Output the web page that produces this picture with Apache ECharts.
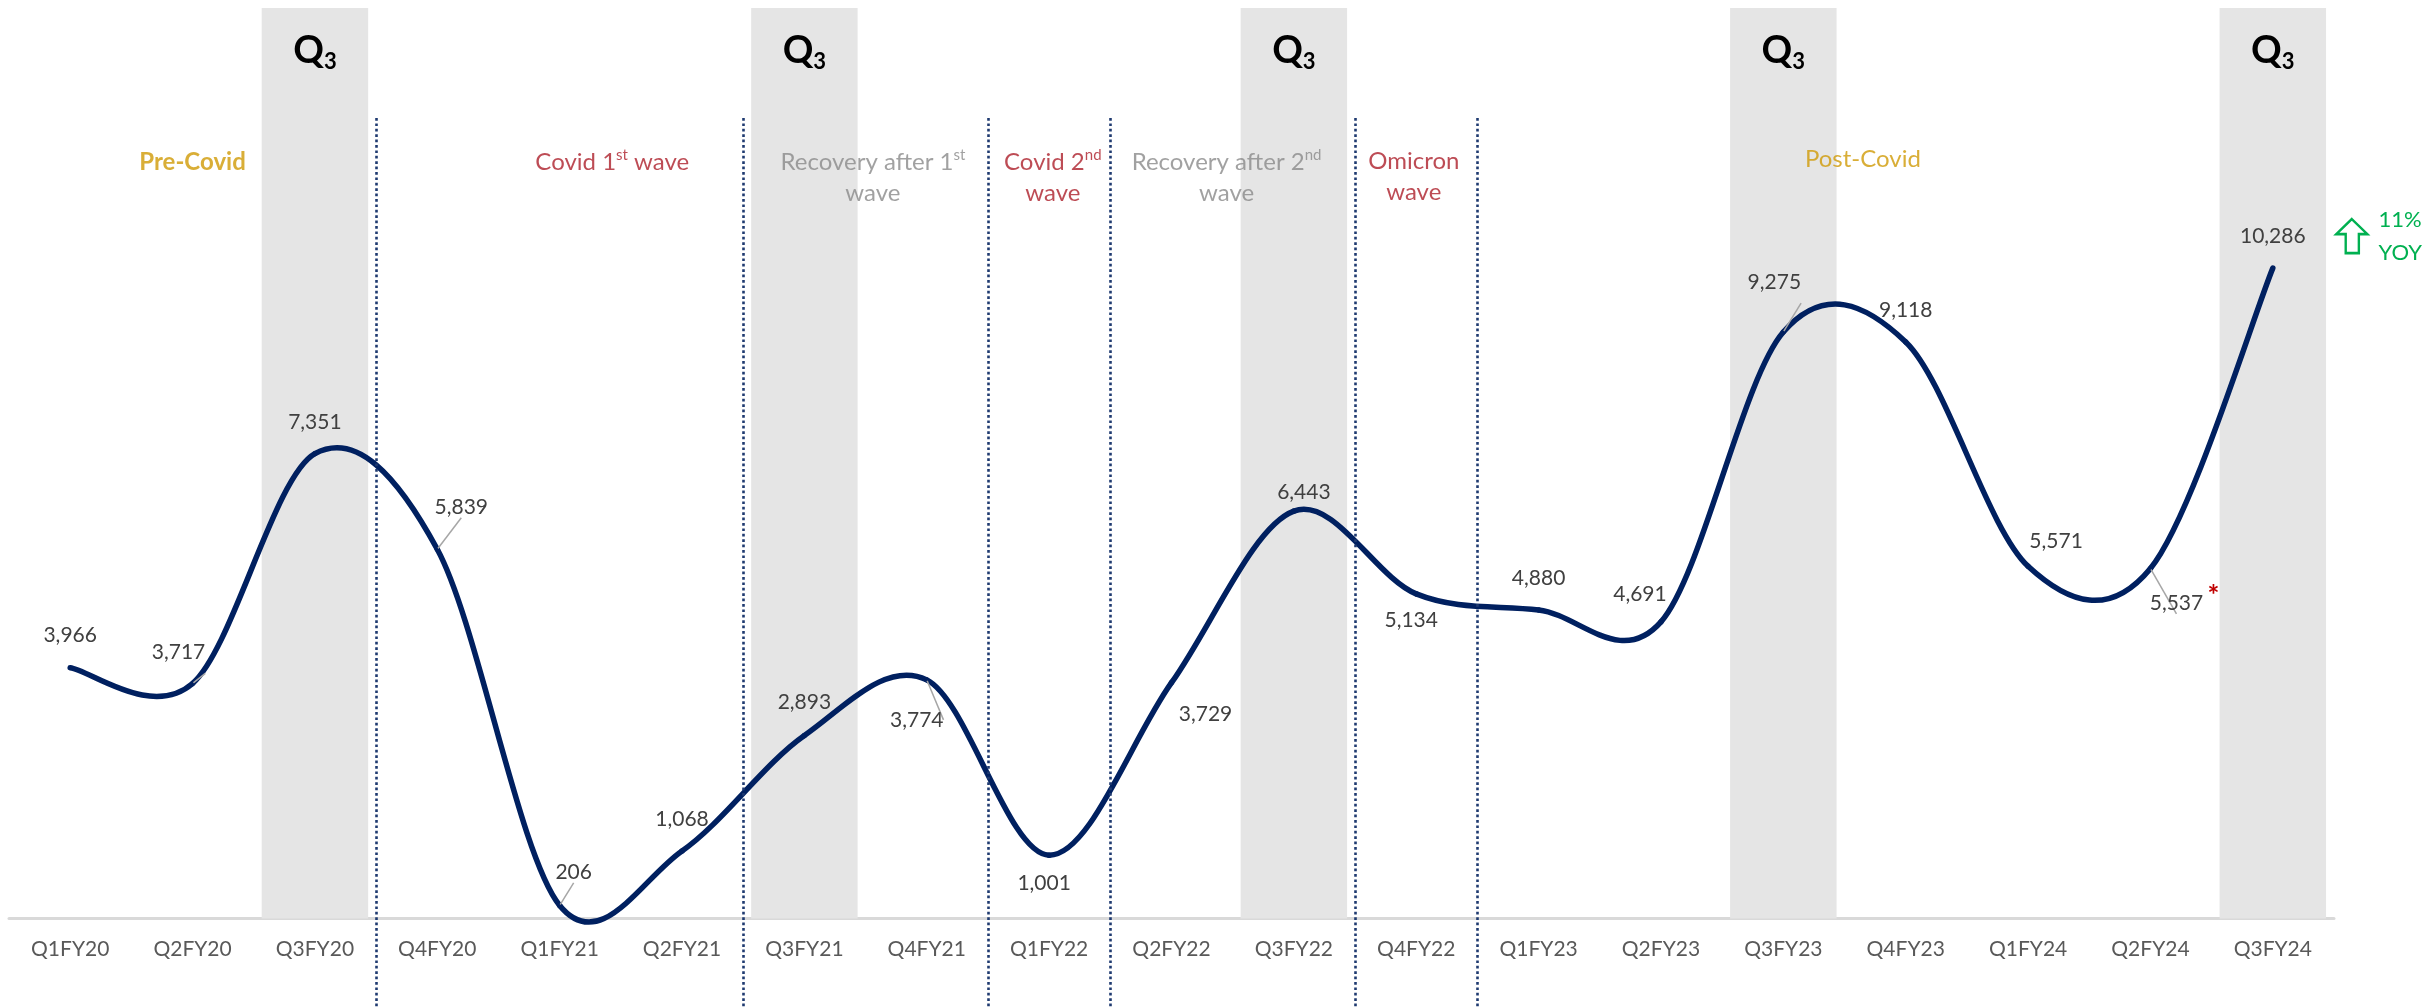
<!DOCTYPE html>
<html>
<head>
<meta charset="utf-8">
<script src="https://cdn.jsdelivr.net/npm/echarts@6/dist/echarts.min.js"></script>
<style>
  html, body { margin: 0; padding: 0; background: #ffffff; overflow: hidden; }
  #chart { width: 2430px; height: 1007px; }
</style>
</head>
<body>
<div id="chart"></div>
<script>
// ---------------- data ----------------
const categories = ['Q1FY20','Q2FY20','Q3FY20','Q4FY20','Q1FY21','Q2FY21','Q3FY21','Q4FY21','Q1FY22','Q2FY22',
                    'Q3FY22','Q4FY22','Q1FY23','Q2FY23','Q3FY23','Q4FY23','Q1FY24','Q2FY24','Q3FY24'];
const values = [3966, 3717, 7351, 5839, 206, 1068, 2893, 3774, 1001, 3729,
                6443, 5134, 4880, 4691, 9275, 9118, 5571, 5537, 10286];
const footnoteCategory = 'Q2FY24';          // marked with a red asterisk
const yoyText = ['11%', 'YOY'];
// period boundaries (between categories, in category-index units)
const periodBoundaries = [2.5, 5.5, 7.5, 8.5, 10.5, 11.5];
const periodNames = ['Pre-Covid', 'Covid 1st wave', 'Recovery after 1st wave', 'Covid 2nd wave',
                     'Recovery after 2nd wave', 'Omicron wave', 'Post-Covid'];
const periodKinds = ['pre', 'covid', 'recovery', 'covid', 'recovery', 'covid', 'post'];

// ---------------- layout (not data) ----------------
const Y_MIN = -1400, Y_MAX = 14400, LINE_TOP = 12660;
const GRID_TOP = 8, GRID_H = 999;
const AXIS_OFFSET = -GRID_H * (0 - Y_MIN) / (Y_MAX - Y_MIN);   // puts the category axis on value 0
const labelOffsets = [[0,-32],[-14,-31],[0,-31],[24,-42],[14,-33],[0,-32],[0,-33],[-10,40],[-5,28],[34,32],
                      [10,-19],[-5,26],[0,-32],[-21,-28],[-9,-50],[0,-32],[28,-25],[26,35],[0,-32]];
const leaderIdx = [1, 3, 4, 7, 14, 17];
const periodPos = [[1.0, 11960],[4.43, 11960],[6.56, 11720],[8.03, 11720],[9.45, 11720],[10.98, 11730],[14.65, 12010]];

const FONT = 'Lato';
const GOLD = '#cf9a05', RED = '#ad1f2a', GRAY = '#8a8a8a', NAVY = '#002060';

function periodLabel(name, kind) {
  const twoLine = kind === 'recovery' || (kind === 'covid' && !/1st/.test(name));
  const base = kind === 'pre' ? 'gb' : kind === 'post' ? 'gd' : kind === 'covid' ? 'r' : 'g';
  const sup = base === 'r' ? 'rs' : 'gs';
  let lines = [name];
  if (twoLine) {
    const i = name.lastIndexOf(' wave');
    lines = [name.slice(0, i), 'wave'];
  }
  return lines.map(l => {
    const m = l.match(/^(.*\d)(st|nd)(.*)$/);
    if (m) {
      let s = '{' + base + '|' + m[1] + '}{' + sup + '|' + m[2] + '}';
      if (m[3]) s += '{' + base + '|' + m[3] + '}';
      return s;
    }
    return '{' + base + '|' + l + '}';
  }).join('\n');
}

const lineData = values.map((v, i) => {
  const item = { value: v, label: { offset: labelOffsets[i] } };
  if (leaderIdx.indexOf(i) >= 0) {
    item.labelLine = { show: true, lineStyle: { color: '#a6a6a6', width: 1.5 } };
  }
  return item;
});

const bandData = categories.map(c => c.indexOf('Q3') === 0 ? Y_MAX : '-');

const periodData = periodNames.map((n, i) => ({
  value: periodPos[i],
  label: { formatter: periodLabel(n, periodKinds[i]) }
}));

// smoothed curve: one cubic segment per data point (Catmull-Rom style tangents
// like a spreadsheet "smoothed line"), positioned through the axes via api.coord
function renderSegment(params, api) {
  const i = params.dataIndex;
  const n = values.length;
  if (i >= n - 1) return null;
  const clampI = k => Math.max(0, Math.min(n - 1, k));
  const P = k => api.coord([clampI(k), values[clampI(k)]]);
  const p0 = P(i - 1), p1 = P(i), p2 = P(i + 1), p3 = P(i + 2);
  return {
    type: 'bezierCurve',
    shape: {
      x1: p1[0], y1: p1[1],
      x2: p2[0], y2: p2[1],
      cpx1: p1[0] + (p2[0] - p0[0]) / 6, cpy1: p1[1] + (p2[1] - p0[1]) / 6,
      cpx2: p2[0] - (p3[0] - p1[0]) / 6, cpy2: p2[1] - (p3[1] - p1[1]) / 6
    },
    style: { stroke: NAVY, lineWidth: 5.5, fill: 'none', lineCap: 'round' },
    silent: true
  };
}

const chart = echarts.init(document.getElementById('chart'), null, { renderer: 'canvas' });

const option = {
  animation: false,
  backgroundColor: '#ffffff',
  textStyle: { fontFamily: FONT },
  grid: { left: 9, right: 96, top: GRID_TOP, height: GRID_H, containLabel: false, outerBoundsMode: 'none' },
  xAxis: [
    {
      type: 'category',
      data: categories,
      boundaryGap: true,
      offset: AXIS_OFFSET,
      axisLine: { onZero: false, lineStyle: { color: '#d9d9d9', width: 3 } },
      axisTick: { show: false },
      axisLabel: { color: '#595959', fontSize: 21, fontFamily: FONT, margin: 20 },
      splitLine: { show: false }
    },
    { type: 'value', min: -0.5, max: 18.5, show: false }
  ],
  yAxis: { type: 'value', min: Y_MIN, max: Y_MAX, show: false, splitLine: { show: false } },
  series: [
    {
      type: 'bar',
      name: 'Q3 bands',
      xAxisIndex: 0,
      data: bandData,
      barWidth: '87%',
      silent: true,
      z: 1,
      itemStyle: { color: '#e5e5e5' },
      label: {
        show: true,
        position: 'insideTop',
        distance: 21,
        formatter: '{q|Q}{s|3}',
        rich: {
          q: { fontSize: 38, fontWeight: 'bold', color: '#000000', fontFamily: FONT, lineHeight: 44, verticalAlign: 'middle' },
          s: { fontSize: 22, fontWeight: 'bold', color: '#000000', fontFamily: FONT, lineHeight: 44, verticalAlign: 'bottom' }
        }
      }
    },
    {
      type: 'scatter',
      name: 'periods',
      xAxisIndex: 1,
      data: periodData,
      symbolSize: 1,
      itemStyle: { color: 'rgba(0,0,0,0)' },
      silent: true,
      z: 2,
      label: {
        show: true,
        position: 'inside',
        align: 'center',
        rich: {
          gb: { color: GOLD, fontSize: 24, fontWeight: 'bold', fontFamily: FONT, lineHeight: 31, verticalAlign: 'middle' },
          gd: { color: GOLD, fontSize: 24, fontFamily: FONT, lineHeight: 31, verticalAlign: 'middle' },
          r:  { color: RED, fontSize: 24, fontFamily: FONT, lineHeight: 31, verticalAlign: 'middle' },
          rs: { color: RED, fontSize: 15, fontFamily: FONT, lineHeight: 31, verticalAlign: 'top', padding: [1, 0, 0, 0] },
          g:  { color: GRAY, fontSize: 24, fontFamily: FONT, lineHeight: 31, verticalAlign: 'middle' },
          gs: { color: GRAY, fontSize: 15, fontFamily: FONT, lineHeight: 31, verticalAlign: 'top', padding: [1, 0, 0, 0] }
        }
      },
      markLine: {
        silent: true,
        symbol: ['none', 'none'],
        label: { show: false },
        lineStyle: { color: '#1f3a70', width: 2.6, type: [2.7, 2.7] },
        data: periodBoundaries.map(b => [{ coord: [b, LINE_TOP] }, { coord: [b, Y_MIN] }])
      }
    },
    {
      type: 'custom',
      name: 'Sales curve',
      xAxisIndex: 0,
      data: values.map((v, i) => [i, v]),
      encode: { x: 0, y: 1 },
      renderItem: renderSegment,
      silent: true,
      z: 4
    },
    {
      type: 'line',
      name: 'Sales',
      xAxisIndex: 0,
      data: lineData,
      symbol: 'circle',
      symbolSize: 2,
      showSymbol: true,
      itemStyle: { color: NAVY },
      lineStyle: { width: 0, opacity: 0 },
      z: 5,
      label: {
        show: true,
        position: 'inside',
        color: '#404040',
        fontSize: 21,
        fontFamily: FONT,
        formatter: p => Number(p.value).toLocaleString('en-US')
      },
      labelLine: { show: false },
      markPoint: {
        silent: true,
        data: [
          {
            coord: [categories.length - 1, values[values.length - 1]],
            symbol: 'path://M16.5,0 L33,15 L24,15 L24,34 L10,34 L10,15 L0,15 Z',
            symbolSize: [31, 34],
            symbolOffset: [79, -32],
            itemStyle: { color: 'rgba(0,0,0,0)', borderColor: '#00b050', borderWidth: 2.5 },
            label: {
              show: true,
              position: 'right',
              distance: 10,
              formatter: yoyText.join('\n'),
              color: '#00b050',
              fontSize: 22,
              fontFamily: FONT,
              lineHeight: 33,
              align: 'left'
            }
          },
          {
            coord: [categories.indexOf(footnoteCategory), values[categories.indexOf(footnoteCategory)]],
            symbol: 'circle',
            symbolSize: 1,
            itemStyle: { color: 'rgba(0,0,0,0)' },
            label: {
              show: true,
              position: 'inside',
              formatter: '*',
              offset: [63, 28],
              color: '#c00000',
              fontSize: 28,
              fontWeight: 'bold',
              fontFamily: FONT
            }
          }
        ]
      }
    }
  ]
};

chart.setOption(option);
</script>
</body>
</html>
